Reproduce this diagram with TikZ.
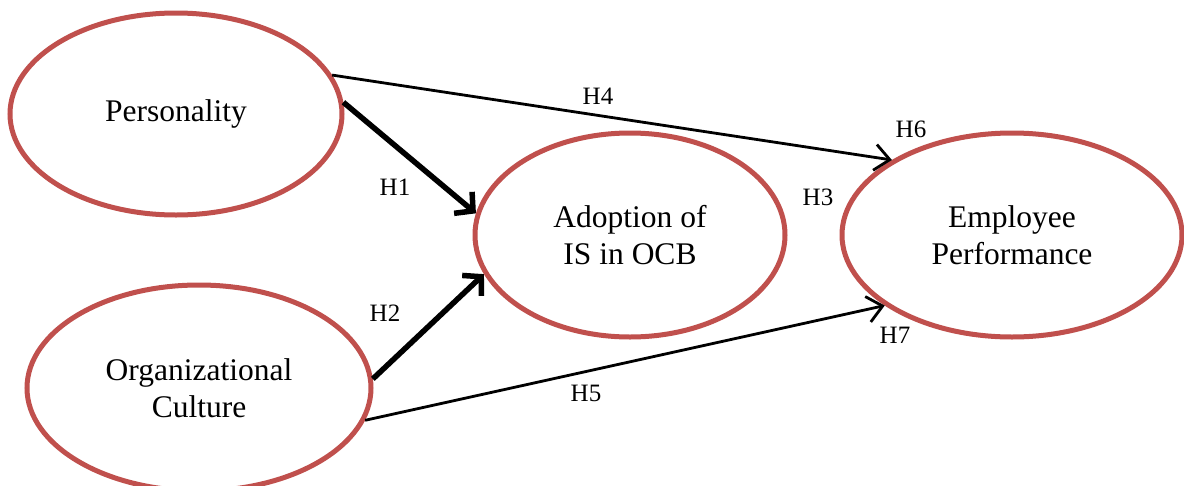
\documentclass[tikz,border=0pt]{standalone}
\usepackage{fontspec}
\setmainfont{Liberation Serif}
\usetikzlibrary{shapes.geometric,arrows.meta}
\definecolor{ovalred}{RGB}{192,80,77}
\begin{document}
\begin{tikzpicture}[x=1pt,y=-1pt,
  construct/.style={ellipse, draw=ovalred, line width=5pt, fill=white, inner sep=0pt, align=center, font=\fontsize{31.5}{37}\selectfont},
  thinarrow/.style={line width=2.8pt, -{Straight Barb[length=15pt,width=26pt]}},
  thickarrow/.style={line width=5.5pt, -{Straight Barb[length=13pt,width=28pt]}},
  hlabel/.style={font=\fontsize{25}{30}\selectfont, inner sep=0pt}]
\useasboundingbox (0,0) rectangle (1184,485);
\node[construct, minimum width=332pt, minimum height=202pt] (pers) at (176,114) {Personality};
\node[construct, minimum width=344pt, minimum height=206pt] (org) at (199,388) {Organizational\\Culture};
\node[construct, minimum width=310pt, minimum height=204pt] (adopt) at (630,235) {Adoption of\\IS in OCB};
\node[construct, minimum width=340pt, minimum height=204pt] (emp) at (1012,235) {Employee\\Performance};
\draw[thinarrow] (pers.14) -- (emp.148);
\draw[thickarrow] (pers.4) -- (adopt.172);
\draw[thickarrow] (org.3) -- (adopt.195);
\draw[thinarrow] (org.-11) -- (emp.209);
\node[hlabel] (h4) at (598,96) {H4};
\node[hlabel] (h6) at (911,129) {H6};
\node[hlabel] (h1) at (395,187) {H1};
\node[hlabel] (h3) at (818,197) {H3};
\node[hlabel] (h2) at (385,313) {H2};
\node[hlabel] (h7) at (895,335) {H7};
\node[hlabel] (h5) at (586,393) {H5};
\end{tikzpicture}
\end{document}
